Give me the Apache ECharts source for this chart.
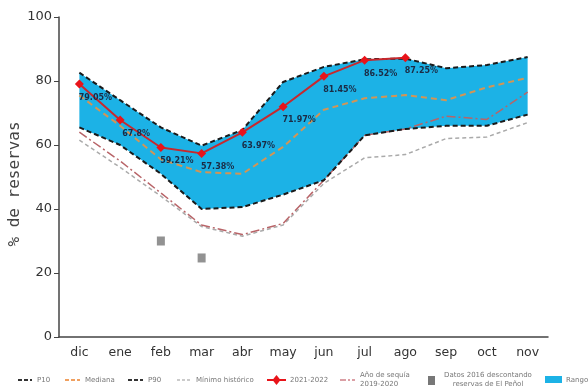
<!DOCTYPE html>
<html><head><meta charset="utf-8">
<script src="https://cdn.jsdelivr.net/npm/echarts@6/dist/echarts.min.js"></script>
<style>html,body{margin:0;padding:0;background:#fff}#c{width:588px;height:390px}</style>
</head><body><div id="c"></div>
<script>
const months = ['dic','ene','feb','mar','abr','may','jun','jul','ago','sep','oct','nov'];
const p10 = [65.5, 60, 51, 40, 40.6, 44.5, 49, 63, 65, 66, 66, 69.5];
const p90 = [82.6, 74, 65.5, 59.8, 64.7, 79.7, 84.4, 86.8, 87, 84, 85, 87.5];
const mediana = [75.5, 66, 55.5, 51.5, 51, 59.4, 71, 74.6, 75.6, 74, 78, 81];
const minimo = [61.5, 53, 44, 34.5, 31.5, 35, 48, 56, 57, 62, 62.5, 67];
const sequia = [64, 55, 45, 35, 32, 35.5, 49, 63, 65, 69, 68, 76.5];
const actual = [79.05, 67.8, 59.21, 57.38, 63.97, 71.97, 81.45, 86.52, 87.25, null, null, null];
const datos2016 = [null, null, 30, 24.7, null, null, null, null, null, null, null, null];
const yTicks = [0, 20, 40, 60, 80, 100];

const bandDiff = p90.map((v, i) => +(v - p10[i]).toFixed(2));
const chart = echarts.init(document.getElementById('c'));
const F = 'DejaVu Sans';

function legLine(x1, x2, y, color, dash, w) {
  return {type: 'line', shape: {x1: x1, y1: y, x2: x2, y2: y}, style: {stroke: color, lineWidth: w || 2, lineDash: dash}};
}
function legText(x, y, t) {
  return {type: 'text', x: x, y: y, style: {text: t, font: '7px ' + F, fill: '#777', verticalAlign: 'middle', align: 'left'}};
}
const LY = 380;
const legend = [
  legLine(18, 32, LY, '#333', [4, 2]), legText(37, LY, 'P10'),
  legLine(65, 80, LY, '#F0A060', [4, 2]), legText(85, LY, 'Mediana'),
  legLine(128, 143, LY, '#333', [4, 2]), legText(148, LY, 'P90'),
  legLine(177, 192, LY, '#bbb', [3, 2], 1.5), legText(196, LY, 'Mínimo histórico'),
  legLine(267, 286, LY, '#E8141A', null, 2),
  {type: 'polygon', shape: {points: [[276.5, 375], [280.5, 380], [276.5, 385], [272.5, 380]]}, style: {fill: '#E8141A'}},
  legText(290, LY, '2021-2022'),
  legLine(340, 355, LY, '#D08088', [6, 2, 2, 2], 1.5),
  legText(360, 375, 'Año de sequía'), legText(360, 384, '2019-2020'),
  {type: 'rect', shape: {x: 428, y: 376, width: 7, height: 9}, style: {fill: '#777'}},
  {type: 'text', x: 488, y: 375, style: {text: 'Datos 2016 descontando', font: '7px ' + F, fill: '#777', verticalAlign: 'middle', align: 'center'}},
  {type: 'text', x: 488, y: 384, style: {text: 'reservas de El Peñol', font: '7px ' + F, fill: '#777', verticalAlign: 'middle', align: 'center'}},
  {type: 'rect', shape: {x: 545, y: 376, width: 17, height: 7}, style: {fill: '#1CB2E6'}},
  legText(566, LY, 'Rango P10 - P90'),
  {type: 'text', x: 15, y: 184, rotation: Math.PI / 2, style: {text: '% de reservas', font: '16px "DejaVu Sans Mono"', fill: '#444', align: 'center', verticalAlign: 'middle'}}
];

chart.setOption({
  animation: false,
  backgroundColor: '#fff',
  grid: {left: 59, right: 40, top: 17, bottom: 53},
  xAxis: {
    type: 'category', data: months, boundaryGap: true,
    axisLine: {lineStyle: {color: '#444', width: 1.5}},
    axisTick: {alignWithLabel: true, length: 5, lineStyle: {color: '#444'}},
    axisLabel: {color: '#333', fontSize: 12.5, fontFamily: F, margin: 9}
  },
  yAxis: {
    type: 'value', min: yTicks[0], max: yTicks[yTicks.length - 1], interval: 20,
    axisLine: {show: true, lineStyle: {color: '#444', width: 1.5}},
    axisTick: {show: true, length: 5, lineStyle: {color: '#444'}},
    splitLine: {show: false},
    axisLabel: {color: '#333', fontSize: 13, fontFamily: F, margin: 7}
  },
  graphic: legend,
  series: [
    {type: 'line', data: p10, stack: 'band', symbol: 'none', lineStyle: {opacity: 0}, silent: true},
    {type: 'line', data: bandDiff, stack: 'band', symbol: 'none', lineStyle: {opacity: 0}, areaStyle: {color: '#1CB2E6', opacity: 1}, silent: true},
    {name: 'Mínimo histórico', type: 'line', data: minimo, symbol: 'none', lineStyle: {color: '#aaa', width: 1.5, type: [4, 3]}},
    {name: 'Año de sequía 2019-2020', type: 'line', data: sequia, symbol: 'none', lineStyle: {color: '#B86468', width: 1.5, type: [9, 3, 2, 3]}},
    {name: 'P10', type: 'line', data: p10, symbol: 'none', lineStyle: {color: '#1a1a1a', width: 2, type: [5, 3]}},
    {name: 'P90', type: 'line', data: p90, symbol: 'none', lineStyle: {color: '#1a1a1a', width: 2, type: [5, 3]}},
    {name: 'Mediana', type: 'line', data: mediana, symbol: 'none', lineStyle: {color: '#D39555', width: 2, type: [6, 4]}},
    {name: 'Datos 2016', type: 'scatter', data: datos2016, symbol: 'rect', symbolSize: [8, 9], itemStyle: {color: '#777'}},
    {name: '2021-2022', type: 'line', data: actual, symbol: 'diamond', symbolSize: 9,
     lineStyle: {color: '#C8282D', width: 2}, itemStyle: {color: '#E8141A'},
     label: {show: true, position: 'bottom', distance: 5, offset: [16, 0], formatter: p => p.value + '%',
             color: '#1B2B45', fontSize: 8, fontWeight: 'bold', fontFamily: F}}
  ]
});
</script></body></html>
